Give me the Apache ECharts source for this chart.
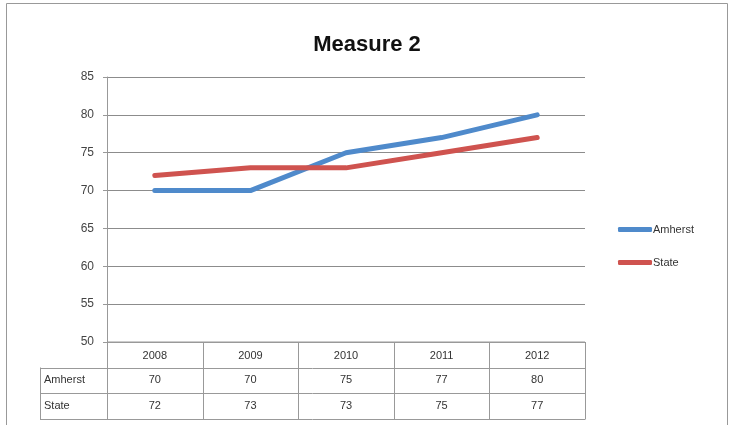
<!DOCTYPE html>
<html>
<head>
<meta charset="utf-8">
<style>
  html, body { margin: 0; padding: 0; background: #fff; }
  #chart { width: 734px; height: 425px; }
</style>
<script src="https://cdn.jsdelivr.net/npm/echarts@6/dist/echarts.min.js"></script>
</head>
<body>
<div id="chart"></div>
<script>
const years = ["2008", "2009", "2010", "2011", "2012"];
const amherst = [70, 70, 75, 77, 80];
const state = [72, 73, 73, 75, 77];
const seriesNames = ["Amherst", "State"];
const colors = ["#4f8acb", "#cf534f"];

const FONT = "Liberation Sans";
const chart = echarts.init(document.getElementById("chart"));

let option = {
  animation: false,
  title: {
    text: "Measure 2",
    left: "center",
    top: 29,
    textStyle: { fontFamily: FONT, fontSize: 22, fontWeight: "bold", color: "#111" },
  },
  legend: {
    orient: "vertical",
    left: 613,
    top: 219,
    itemWidth: 34,
    itemHeight: 5,
    itemGap: 22,
    icon: "roundRect",
    data: seriesNames,
    textStyle: { fontFamily: FONT, fontSize: 11, color: "#333", padding: [5, 0, 0, -4] },
  },
  grid: { left: 107, right: 149, top: 77, bottom: 83 },
  xAxis: {
    type: "category",
    data: years,
    boundaryGap: true,
    axisLine: { lineStyle: { color: "#999" } },
    axisTick: { show: false },
    axisLabel: { margin: 8, fontFamily: FONT, fontSize: 11, color: "#333" },
  },
  yAxis: {
    type: "value",
    min: 50,
    max: 85,
    interval: 5,
    axisLine: { show: true, lineStyle: { color: "#999" } },
    axisTick: { show: true, length: 4, lineStyle: { color: "#999" } },
    axisLabel: { margin: 13, fontFamily: FONT, fontSize: 12, color: "#444" },
    splitLine: { lineStyle: { color: "#8c8c8c", width: 1 } },
  },
  series: [
    {
      name: seriesNames[0],
      type: "line",
      data: amherst,
      symbol: "none",
      color: colors[0],
      lineStyle: { width: 5, color: colors[0], cap: "round", join: "round" },
    },
    {
      name: seriesNames[1],
      type: "line",
      data: state,
      symbol: "none",
      color: colors[1],
      lineStyle: { width: 5, color: colors[1], cap: "round", join: "round" },
    },
  ],
};
chart.setOption(option);

// data table under the axis, columns lined up with the category axis
function buildTable() {
  const c0 = chart.convertToPixel({ xAxisIndex: 0 }, 0);
  const c1 = chart.convertToPixel({ xAxisIndex: 0 }, 1);
  const colW = c1 - c0;
  const x0 = c0 - colW / 2;
  const x1 = x0 + colW * years.length;
  const yTop = chart.convertToPixel({ yAxisIndex: 0 }, 50);
  const rowH = 25.5;
  const labelX = 40;
  const lineColor = "#999";
  const els = [];
  const rows = [amherst, state];

  els.push({ type: "line", shape: { x1: x0, y1: yTop, x2: x1, y2: yTop }, style: { stroke: lineColor, lineWidth: 1 } });
  for (let r = 1; r <= rows.length; r++) {
    const y = Math.round(yTop + rowH * r) + 0.5;
    els.push({ type: "line", shape: { x1: labelX, y1: y, x2: x1, y2: y }, style: { stroke: lineColor, lineWidth: 1 } });
  }
  const yEnd = Math.round(yTop + rowH * (rows.length + 1)) + 0.5;
  els.push({ type: "line", shape: { x1: labelX, y1: yEnd, x2: x1, y2: yEnd }, style: { stroke: lineColor, lineWidth: 1 } });

  for (let i = 0; i <= years.length; i++) {
    const x = Math.round(x0 + colW * i) + 0.5;
    els.push({ type: "line", shape: { x1: x, y1: yTop, x2: x, y2: yEnd }, style: { stroke: lineColor, lineWidth: 1 } });
  }
  els.push({ type: "line", shape: { x1: labelX + 0.5, y1: yTop + rowH, x2: labelX + 0.5, y2: yEnd }, style: { stroke: lineColor, lineWidth: 1 } });

  rows.forEach((vals, r) => {
    const cy = yTop + rowH * (r + 1) + rowH / 2;
    els.push({
      type: "text",
      style: { x: labelX + 4, y: cy, text: seriesNames[r], fill: "#333", font: "11px " + FONT, verticalAlign: "middle", align: "left" },
    });
    vals.forEach((v, i) => {
      els.push({
        type: "text",
        style: { x: x0 + colW * (i + 0.5), y: cy, text: String(v), fill: "#333", font: "11px " + FONT, verticalAlign: "middle", align: "center" },
      });
    });
  });

  // outer chart border
  els.push({ type: "rect", shape: { x: 6.5, y: 3.5, width: 721, height: 430 }, style: { fill: "none", stroke: "#999", lineWidth: 1 } });

  chart.setOption({ graphic: els });
}
buildTable();
</script>
</body>
</html>
